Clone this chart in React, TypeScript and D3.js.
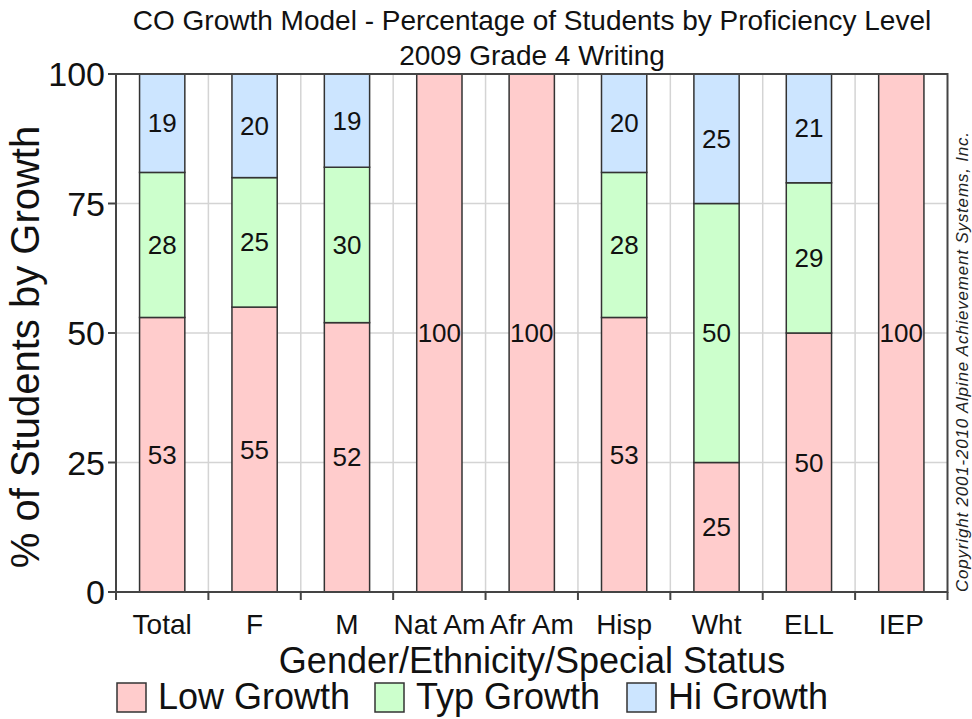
import React from "react";
import * as d3 from "d3";

const categories = ["Total", "F", "M", "Nat Am", "Afr Am", "Hisp", "Wht", "ELL", "IEP"];
const lowGrowth = [53, 55, 52, 100, 100, 53, 25, 50, 100];
const typGrowth = [28, 25, 30, 0, 0, 28, 50, 29, 0];
const hiGrowth = [19, 20, 19, 0, 0, 20, 25, 21, 0];
const yTicks = [0, 25, 50, 75, 100];

const seriesKeys = ["low", "typ", "hi"] as const;
const seriesNames = ["Low Growth", "Typ Growth", "Hi Growth"];
const seriesColors = ["#ffcccc", "#ccffcc", "#cce5ff"];

const W = 972;
const H = 719;
const FONT = "'Liberation Sans', Arial, Helvetica, sans-serif";

const plot = { left: 116, right: 947.5, top: 74, bottom: 592 };

export default function App() {
  const rows = categories.map((c, i) => ({
    cat: c,
    low: lowGrowth[i],
    typ: typGrowth[i],
    hi: hiGrowth[i],
  }));

  const x = d3
    .scaleBand<string>()
    .domain(categories)
    .range([plot.left, plot.right])
    .paddingInner(0)
    .paddingOuter(0);
  const y = d3.scaleLinear().domain([0, 100]).range([plot.bottom, plot.top]);

  const stacked = d3.stack<any>().keys(seriesKeys as any)(rows);
  const barW = x.bandwidth() * 0.49;

  const boundaries = categories.map((c) => x(c)!).concat([plot.right]);

  return (
    <svg
      width={W}
      height={H}
      viewBox={`0 0 ${W} ${H}`}
      style={{ position: "absolute", left: 0, top: 0, background: "#fff" }}
      fontFamily={FONT}
    >
      <rect x={0} y={0} width={W} height={H} fill="#fff" />

      {/* title */}
      <text x={532} y={30} textAnchor="middle" fontSize={28} fill="#111">
        CO Growth Model - Percentage of Students by Proficiency Level
      </text>
      <text x={532} y={65} textAnchor="middle" fontSize={28} fill="#111">
        2009 Grade 4 Writing
      </text>

      {/* grid */}
      {yTicks
        .filter((t) => t > 0 && t < 100)
        .map((t) => (
          <line
            key={"gy" + t}
            x1={plot.left}
            x2={plot.right}
            y1={y(t)}
            y2={y(t)}
            stroke="#d4d4d4"
            strokeWidth={1.5}
          />
        ))}
      {boundaries.slice(1, -1).map((bx, i) => (
        <line
          key={"gx" + i}
          x1={bx}
          x2={bx}
          y1={plot.top}
          y2={plot.bottom}
          stroke="#d4d4d4"
          strokeWidth={1.5}
        />
      ))}

      {/* stacked bars */}
      {stacked.map((layer, si) =>
        layer.map((d, i) => {
          const v = rows[i][seriesKeys[si]];
          if (v <= 0) return null;
          const y0 = Math.min(d[0], 100);
          const y1 = Math.min(d[1], 100);
          const cx = x(categories[i])! + x.bandwidth() / 2;
          return (
            <g key={`b${si}-${i}`}>
              <rect
                x={cx - barW / 2}
                y={y(y1)}
                width={barW}
                height={y(y0) - y(y1)}
                fill={seriesColors[si]}
                stroke="#333"
                strokeWidth={1.5}
              />
              <text
                x={cx}
                y={y((y0 + y1) / 2) + 9}
                textAnchor="middle"
                fontSize={26}
                fill="#111"
              >
                {v}
              </text>
            </g>
          );
        })
      )}

      {/* frame */}
      <rect
        x={plot.left}
        y={plot.top}
        width={plot.right - plot.left}
        height={plot.bottom - plot.top}
        fill="none"
        stroke="#444"
        strokeWidth={2}
      />

      {/* y axis ticks & labels */}
      {yTicks.map((t) => (
        <g key={"yt" + t}>
          <line x1={plot.left - 8} x2={plot.left} y1={y(t)} y2={y(t)} stroke="#444" strokeWidth={2} />
          <text x={plot.left - 11} y={y(t) + 12} textAnchor="end" fontSize={34} fill="#111">
            {t}
          </text>
        </g>
      ))}

      {/* x axis ticks & labels */}
      {boundaries.map((bx, i) => (
        <line
          key={"xt" + i}
          x1={bx}
          x2={bx}
          y1={plot.bottom}
          y2={plot.bottom + 8}
          stroke="#444"
          strokeWidth={2}
        />
      ))}
      {categories.map((c) => (
        <text
          key={"xl" + c}
          x={x(c)! + x.bandwidth() / 2}
          y={634}
          textAnchor="middle"
          fontSize={28}
          fill="#111"
        >
          {c}
        </text>
      ))}

      {/* axis titles */}
      <text x={532} y={673} textAnchor="middle" fontSize={36} fill="#111">
        Gender/Ethnicity/Special Status
      </text>
      <text
        transform={`translate(39,347) rotate(-90)`}
        textAnchor="middle"
        fontSize={40}
        fill="#111"
      >
        % of Students by Growth
      </text>

      {/* copyright */}
      <text
        transform={`translate(968,362) rotate(-90)`}
        textAnchor="middle"
        fontSize={17}
        fontStyle="italic"
        fill="#222"
        textLength={460}
        lengthAdjust="spacing"
      >
        Copyright 2001-2010 Alpine Achievement Systems, Inc.
      </text>

      {/* legend */}
      {seriesNames.map((name, i) => {
        const lx = [117, 375, 627][i];
        return (
          <g key={"lg" + i}>
            <rect x={lx} y={683} width={29} height={29} fill={seriesColors[i]} stroke="#333" strokeWidth={1.5} />
            <text x={lx + 41} y={709} fontSize={36} fill="#111">
              {name}
            </text>
          </g>
        );
      })}
    </svg>
  );
}
